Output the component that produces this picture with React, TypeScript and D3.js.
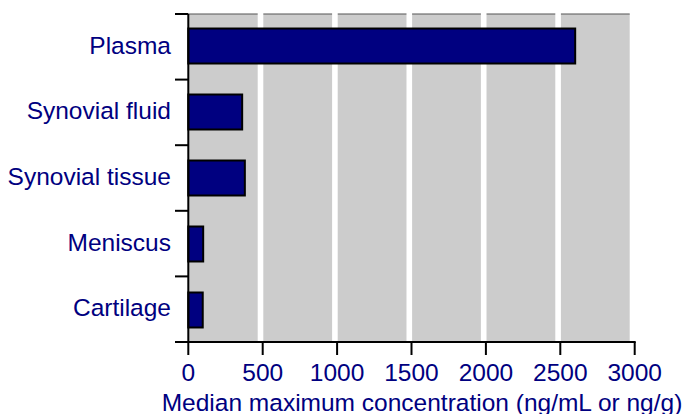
import React from "react";
import * as d3 from "d3";

const categories = ["Plasma", "Synovial fluid", "Synovial tissue", "Meniscus", "Cartilage"];
const values = [2600, 362, 380, 100, 97];
const xTicks = [0, 500, 1000, 1500, 2000, 2500, 3000];
const gridValues = [500, 1000, 1500, 2000, 2500];
const xTitle = "Median maximum concentration (ng/mL or ng/g)";

const W = 687;
const H = 414;
const NAVY = "#000080";
const FONT = "'Liberation Sans', Arial, Helvetica, sans-serif";

export default function App() {
  const x = d3.scaleLinear().domain([0, 3000]).range([188.3, 634.7]);
  const y = d3.scaleBand<string>().domain(categories).range([14, 342]).padding(0);
  const yBar = d3.scaleBand<string>().domain(categories).range([14, 342]).paddingInner(0.47).paddingOuter(0.22);
  const top = 14;
  const bottom = 342;
  const bounds = [...categories.map((c) => y(c) as number), bottom];

  return (
    <svg width={W} height={H} style={{ position: "absolute", left: 0, top: 0 }} fontFamily={FONT}>
      {/* background panel */}
      <rect x={x(0)} y={top} width={x(3000) - 5 - x(0)} height={bottom - top} fill="#cccccc" />
      <line x1={x(0)} x2={x(3000) - 5} y1={top} y2={top} stroke="#555" strokeWidth={1.2} />
      {gridValues.map((v) => (
        <rect key={v} x={x(v) - 5} y={top - 1} width={5.6} height={bottom - top + 1} fill="#ffffff" />
      ))}
      {/* bars */}
      {categories.map((c, i) => (
        <rect
          key={c}
          x={x(0)}
          y={yBar(c)}
          width={x(values[i]) - x(0)}
          height={yBar.bandwidth()}
          fill={NAVY}
          stroke="#000"
          strokeWidth={2}
        />
      ))}
      {/* left axis */}
      <line x1={x(0)} x2={x(0)} y1={top} y2={bottom} stroke="#000" strokeWidth={2} />
      {bounds.map((b, i) => (
        <line key={i} x1={175} x2={x(0)} y1={b} y2={b} stroke="#000" strokeWidth={2} />
      ))}
      {categories.map((c) => (
        <text
          key={c}
          x={171}
          y={(y(c) as number) + y.bandwidth() / 2 + 7}
          textAnchor="end"
          fill={NAVY}
          fontSize={24.5}
        >
          {c}
        </text>
      ))}
      {/* bottom axis */}
      <line x1={175} x2={x(3000) + 1} y1={bottom} y2={bottom} stroke="#000" strokeWidth={2} />
      {xTicks.map((t) => (
        <g key={t}>
          <line x1={x(t)} x2={x(t)} y1={bottom} y2={355} stroke="#000" strokeWidth={2} />
          <text x={x(t)} y={381} textAnchor="middle" fill={NAVY} fontSize={24.5}>
            {t}
          </text>
        </g>
      ))}
      <text x={422} y={410.5} textAnchor="middle" fill={NAVY} fontSize={24.5}>
        {xTitle}
      </text>
    </svg>
  );
}
